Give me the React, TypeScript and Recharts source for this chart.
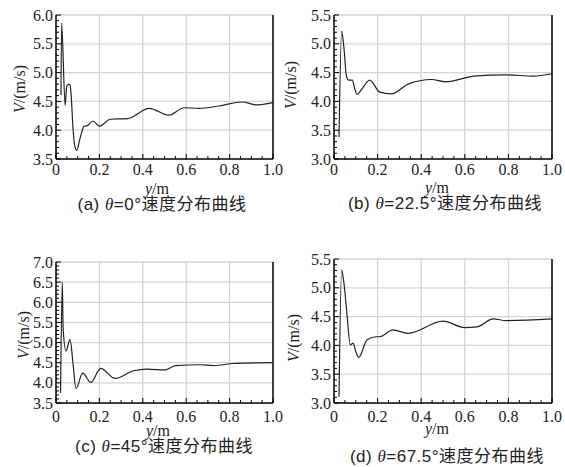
import React from 'react';
import { LineChart, Line, XAxis, YAxis, ReferenceLine } from 'recharts';

// 位置 y (m) 与速度 V (m/s)
const yPosA = [0.023, 0.026, 0.042, 0.049, 0.058, 0.065, 0.07, 0.078, 0.087, 0.096, 0.11, 0.13, 0.145, 0.17, 0.2, 0.25, 0.33, 0.43, 0.52, 0.59, 0.66, 0.75, 0.86, 0.92, 1.0];
const velA = [4.61, 5.86, 4.43, 4.75, 4.8, 4.78, 4.6, 4.05, 3.72, 3.65, 3.85, 4.07, 4.08, 4.16, 4.07, 4.19, 4.2, 4.38, 4.26, 4.39, 4.38, 4.42, 4.49, 4.44, 4.48];

const yPosB = [0.023, 0.035, 0.045, 0.057, 0.067, 0.084, 0.095, 0.106, 0.125, 0.164, 0.21, 0.264, 0.34, 0.448, 0.512, 0.594, 0.64, 0.79, 0.915, 1.0];
const velB = [3.38, 5.22, 4.95, 4.44, 4.37, 4.37, 4.22, 4.12, 4.2, 4.37, 4.16, 4.13, 4.3, 4.38, 4.34, 4.4, 4.44, 4.46, 4.44, 4.48];

const yPosC = [0.021, 0.029, 0.033, 0.046, 0.065, 0.078, 0.092, 0.123, 0.16, 0.206, 0.272, 0.357, 0.418, 0.503, 0.55, 0.665, 0.726, 0.818, 1.0];
const velC = [3.75, 6.5, 5.33, 4.79, 5.08, 4.5, 3.86, 4.24, 4.01, 4.36, 4.11, 4.3, 4.34, 4.32, 4.43, 4.45, 4.43, 4.48, 4.5];

const yPosD = [0.023, 0.035, 0.045, 0.057, 0.075, 0.087, 0.1, 0.113, 0.152, 0.195, 0.21, 0.27, 0.34, 0.5, 0.6, 0.655, 0.73, 0.79, 1.0];
const velD = [3.11, 5.31, 5.1, 4.65, 4.01, 4.04, 3.9, 3.79, 4.1, 4.15, 4.15, 4.27, 4.21, 4.42, 4.31, 4.32, 4.46, 4.43, 4.46];

const xMajor = [0, 0.2, 0.4, 0.6, 0.8, 1.0];
const yMajorA = [3.5, 4.0, 4.5, 5.0, 5.5, 6.0];
const yMajorB = [3.0, 3.5, 4.0, 4.5, 5.0, 5.5];
const yMajorC = [3.5, 4.0, 4.5, 5.0, 5.5, 6.0, 6.5, 7.0];
const yMajorD = [3.0, 3.5, 4.0, 4.5, 5.0, 5.5];

const captions = ['(a) ', '(b) ', '(c) ', '(d) '];
const angles = ['=0°', '=22.5°', '=45°', '=67.5°'];

const SERIF = "'Liberation Serif'";
const SANS = "'Liberation Sans'";
const CJK = "'Noto Sans CJK SC'";

const steps = (min: number, max: number, step: number) => {
  const out: number[] = [];
  const n = Math.round((max - min) / step);
  for (let i = 0; i <= n; i++) out.push(Math.round((min + i * step) * 1000) / 1000);
  return out;
};

const isIn = (v: number, list: number[]) => list.some(m => Math.abs(m - v) < 1e-6);

interface PanelProps {
  xs: number[];
  vs: number[];
  yMajor: number[];
  left: number;
  top: number;
  height: number;
  yAxisWidth: number;
  margin: { top: number; right: number; bottom: number; left: number };
  xLabelDy: number;
  idx: number;
  yTitle: { x: number; y: number };
  xTitle: { x: number; y: number };
  caption: { x: number; y: number };
}

const Panel: React.FC<PanelProps> = ({ xs, vs, yMajor, left, top, height, yAxisWidth, margin, xLabelDy, idx, yTitle, xTitle, caption }) => {
  const data = xs.map((x, i) => ({ x, v: vs[i] }));
  const yMin = yMajor[0];
  const yMax = yMajor[yMajor.length - 1];
  const yTicks = steps(yMin, yMax, 0.1);
  const xTicks = steps(0, 1, 0.05);

  const renderYTick = (p: any) => {
    const v = p.payload.value as number;
    const major = isIn(v, yMajor);
    return (
      <g>
        <line x1={p.x} x2={p.x + (major ? 5 : 3)} y1={p.y} y2={p.y} stroke="#000" strokeWidth={1} />
        {major && (
          <text x={p.x - 3} y={p.y} dy={5.5} textAnchor="end" fontFamily={SERIF} fontSize={16} fill="#222">
            {v.toFixed(1)}
          </text>
        )}
      </g>
    );
  };

  const renderXTick = (p: any) => {
    const v = p.payload.value as number;
    const major = isIn(v, xMajor);
    return (
      <g>
        <line x1={p.x} x2={p.x} y1={p.y} y2={p.y - (major ? 5 : 3)} stroke="#000" strokeWidth={1} />
        {major && (
          <text x={p.x} y={p.y} dy={xLabelDy} textAnchor="middle" fontFamily={SERIF} fontSize={16} fill="#222">
            {v === 0 ? '0' : v.toFixed(1)}
          </text>
        )}
      </g>
    );
  };

  return (
    <div style={{ position: 'absolute', left, top, width: 285, height }}>
      <LineChart width={285} height={height} data={data} margin={margin} style={{ overflow: 'visible' }}>
        {yMajor.slice(1).map(v => (
          <ReferenceLine key={'h' + v} y={v} stroke="#d4d4d4" strokeWidth={1.3} />
        ))}
        {xMajor.slice(1, -1).map(v => (
          <ReferenceLine key={'v' + v} x={v} stroke="#d4d4d4" strokeWidth={1.3} />
        ))}
        <ReferenceLine x={1} stroke="#000" strokeWidth={1.5} />
        <XAxis
          type="number"
          dataKey="x"
          domain={[0, 1]}
          ticks={xTicks}
          interval={0}
          height={30}
          tickSize={0}
          tickMargin={0}
          tickLine={false}
          axisLine={{ stroke: '#000', strokeWidth: 1.5 }}
          tick={renderXTick}
        />
        <YAxis
          type="number"
          domain={[yMin, yMax]}
          ticks={yTicks}
          interval={0}
          width={yAxisWidth}
          tickSize={0}
          tickMargin={0}
          tickLine={false}
          axisLine={{ stroke: '#000', strokeWidth: 1.5 }}
          tick={renderYTick}
        />
        <Line
          type="monotone"
          dataKey="v"
          stroke="#222"
          strokeWidth={1.2}
          dot={false}
          isAnimationActive={false}
        />
      </LineChart>
      <div
        style={{
          position: 'absolute',
          left: yTitle.x - 40,
          top: yTitle.y - 10,
          width: 80,
          height: 20,
          lineHeight: '20px',
          textAlign: 'center',
          transform: 'rotate(-90deg)',
          fontFamily: SERIF,
          fontSize: 16,
          color: '#222',
          whiteSpace: 'nowrap'
        }}
      >
        <i>V</i>/(m/s)
      </div>
      <div
        style={{
          position: 'absolute',
          left: xTitle.x - 40,
          top: xTitle.y - 8,
          width: 80,
          height: 16,
          lineHeight: '16px',
          textAlign: 'center',
          fontFamily: SERIF,
          fontSize: 16,
          color: '#222',
          whiteSpace: 'nowrap'
        }}
      >
        <i>y</i>/m
      </div>
      <div
        style={{
          position: 'absolute',
          left: caption.x - 120,
          top: caption.y - 9,
          width: 240,
          height: 18,
          lineHeight: '18px',
          textAlign: 'center',
          fontSize: 17,
          color: '#222',
          whiteSpace: 'nowrap',
          letterSpacing: 0.5
        }}
      >
        <span style={{ fontFamily: SANS }}>{captions[idx]}</span>
        <i style={{ fontFamily: SERIF }}>θ</i>
        <span style={{ fontFamily: SANS }}>{angles[idx]}</span>
        <span style={{ fontFamily: CJK }}>速度分布曲线</span>
      </div>
    </div>
  );
};

export default function App() {
  return (
    <div style={{ position: 'absolute', left: 0, top: 0, width: 565, height: 467, background: '#fff', overflow: 'hidden' }}>
      <Panel
        idx={0}
        xs={yPosA}
        vs={velA}
        yMajor={yMajorA}
        left={0}
        top={0}
        height={230}
        yAxisWidth={56}
        margin={{ top: 15, right: 12, bottom: 41, left: 0 }}
        xLabelDy={16}
        yTitle={{ x: 20, y: 89 }}
        xTitle={{ x: 157, y: 189 }}
        caption={{ x: 162, y: 203 }}
      />
      <Panel
        idx={1}
        xs={yPosB}
        vs={velB}
        yMajor={yMajorB}
        left={280}
        top={0}
        height={230}
        yAxisWidth={54}
        margin={{ top: 15, right: 13, bottom: 41, left: 0 }}
        xLabelDy={16}
        yTitle={{ x: 11, y: 85 }}
        xTitle={{ x: 157, y: 188 }}
        caption={{ x: 165, y: 202 }}
      />
      <Panel
        idx={2}
        xs={yPosC}
        vs={velC}
        yMajor={yMajorC}
        left={0}
        top={230}
        height={237}
        yAxisWidth={56}
        margin={{ top: 32, right: 12, bottom: 34, left: 0 }}
        xLabelDy={18.5}
        yTitle={{ x: 24, y: 105 }}
        xTitle={{ x: 158, y: 201 }}
        caption={{ x: 164, y: 215 }}
      />
      <Panel
        idx={3}
        xs={yPosD}
        vs={velD}
        yMajor={yMajorD}
        left={280}
        top={230}
        height={237}
        yAxisWidth={54}
        margin={{ top: 29, right: 13, bottom: 34, left: 0 }}
        xLabelDy={18.5}
        yTitle={{ x: 14, y: 108 }}
        xTitle={{ x: 157, y: 199 }}
        caption={{ x: 167, y: 225 }}
      />
    </div>
  );
}
